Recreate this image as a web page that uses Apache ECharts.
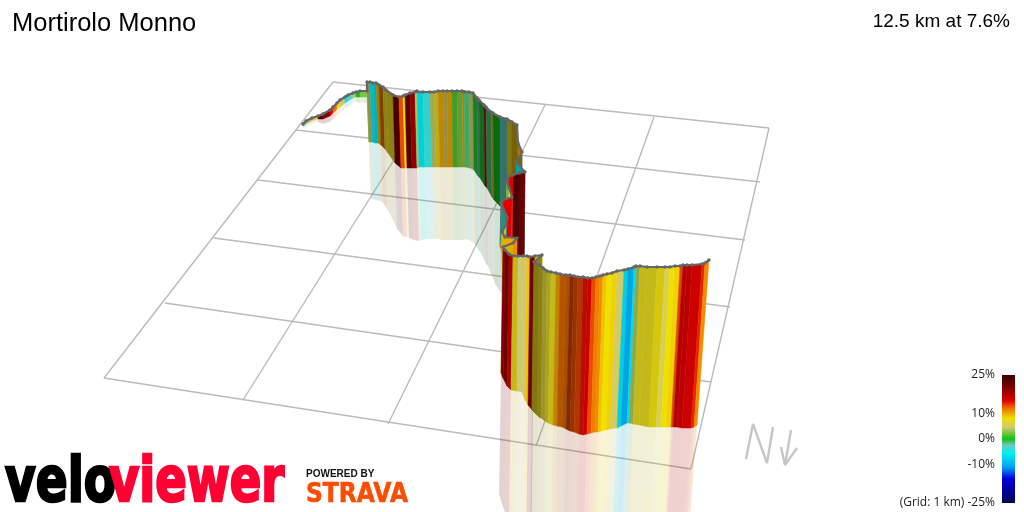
<!DOCTYPE html>
<html><head><meta charset="utf-8">
<style>html,body{margin:0;padding:0;background:#fff}#c{width:1024px;height:512px}</style>
<script src="https://cdn.jsdelivr.net/npm/echarts@6/dist/echarts.min.js"></script>
</head><body><div id="c"></div>
<script>
// Texts
const chartTitle = 'Mortirolo Monno';
const chartSummary = '12.5 km at 7.6%';
const gridNote = '(Grid: 1 km) ';
const brandParts = ['velo', 'viewer'];
const partnerLine = 'POWERED BY';
const partnerName = 'STRAVA';

// Ground grid (scene units = 1024x512 view)
const gridFromX = [333,296,258,214,165,104, 333,436,545,654,769];
const gridFromY = [82,130,180,238,303,378, 82,93,105,117,128];
const gridToX   = [769,760,745,730,711,691, 104,243,388,536,691];
const gridToY   = [128,182,240,307,382,469, 378,400,424,446,469];

// Route curtain: top of wall, foot of wall, gradient (%), side lighting
const topX = [
 303,306,312,318,323,330,333,337,340,345,348,353,356,360,367,
 367,370,373,376,379,383,386,393,399,403,405,410,415,417,423,430,434,438,443,447,452,457,462,464,469,473,477,479,484,486,491,493,500,507,512,
 517,518,522,516,
 525,519,513,508,507,509,512,503,501,507,506,502,505,517,513,
 503,505,509,513,518,523,527,530,535,542,534,539,543,547,551,556,560,566,570,574,578,583,588,592,596,600,603,607,612,617,624,628,634,636,640,647,657,665,670,675,680,683,687,692,702,705,709];
const topY = [
 124,121,118,116,114,110,107,103,100,97,95,93,92,91,91,
 82,82,83,83,85,87,90,95,97,96,95,93,92,91,92,92,92,91,91,91,91,91,91,92,92,93,98,100,105,107,112,113,117,119,122,
 125,143,152,162,
 172,173,175,177,182,188,197,200,203,217,225,232,237,238,243,
 247,250,254,256,256,256,256,257,256,255,262,265,268,271,272,273,274,275,275,276,277,277,278,278,277,276,275,274,273,271,270,269,267,266,266,267,267,267,267,266,266,265,265,265,264,263,260];
const baseX = [
 303,306,312,318,323,330,333,337,340,345,348,353,356,360,367,
 369,372,375,378,381,385,388,395,401,405,407,412,417,419,425,432,436,440,445,448,453,458,463,465,470,474,478,480,485,487,492,494,500,507,512,
 517,518,522,516,
 524,518,512,507,506,508,511,502,500,506,505,501,504,516,512,
 501,503,507,511,517,522,525,528,533,540,532,537,541,545,548,553,557,562,566,570,574,579,583,587,591,595,598,601,606,610,617,621,627,629,633,639,649,656,661,666,671,673,677,682,691,694,697];
const baseY = [
 126,124,121,119,119,116,113,109,107,103,101,98,97,97,97,
 142,142,143,143,145,149,153,163,168,168,168,168,168,167,167,167,167,167,167,167,167,167,167,167,168,170,176,178,186,188,197,200,206,210,213,
 216,220,225,228,
 275,272,268,264,262,258,258,252,246,246,246,246,290,290,300,
 373,378,386,390,391,392,400,405,411,418,410,415,418,421,423,425,426,427,429,431,432,434,435,434,433,432,432,431,430,429,428,426,423,423,424,425,427,427,427,427,427,427,427,428,428,427,425];
const grade = [
 -7,4,5,23,20,15,12,8,4.5,-6,-3,4,0,2.5,2.5,
 5,-6,-8,8,12,7,7,24,13,8,23,19,3.5,-6,-4,4,7,10,5,10,1.5,2.5,9,-1.5,4,-0.5,-2,-0.5,20,-1.5,6,0,-3,7,9,
 6,11,5,-6,
 21,23,15,8,2,8,15,14,-4,-4,8,9,10,11,9,
 20,21,17,7,4.5,4.5,9,21,9,7,7,7,6,7,7,10,12,12,13,13,13,14.5,15.5,13,11.5,11,9,8,8.5,5,-7,-10,-7,3.5,7,7,7.5,5.5,8,8.5,13,15.5,17,16,14,11,null];
const lighting = [
 1,1,1,1,1,1,1,1,1,1,1,1,1,1,1,
 .7,.8,.85,.6,.55,.6,.6,1,1,1,1,1,1,.9,.95,.85,.8,.8,.7,.8,.8,.8,.7,.85,.75,.65,.55,.55,.8,.55,.5,.55,.55,.55,.5,
 .5,.8,.5,.7,
 .95,.9,1,1,1,1,1,1,.65,.65,.9,.9,1,1,.9,
 1,1,.9,.85,1,1,1,1,1,.6,.55,.6,.7,.75,.85,.8,.75,.7,.55,.65,.75,.8,.95,1,1,1,1,1,1,1,.95,.95,1,.85,.85,.85,.9,1,1,1,.95,.85,1,1,1,1,1];

// Colour scale
const scaleStops  = [25,20,15,12,8,4.5,0,-2.5,-5.5,-11,-15.5,-25];
const scaleColors = ['#3a0000','#800000','#e00000','#f07000','#f0e000','#d0c870','#10c010','#70c8c0','#00f0f0','#00a0f0','#0000e0','#000050'];
const scaleTicks  = [25,10,0,-10,-25];

// Hand-drawn north mark
const northLetterX = [746,753,767,773];
const northLetterY = [459,424,463,427];
const northArrowX  = [791,785,781,785,797];
const northArrowY  = [430,465,447,465,448];

function hex(c){return [1,3,5].map(i=>parseInt(c.substr(i,2),16));}
function colourFor(g,light){
  let i=0;
  while(i<scaleStops.length-2 && g<scaleStops[i+1]) i++;
  const t=Math.min(1,Math.max(0,(scaleStops[i]-g)/(scaleStops[i]-scaleStops[i+1])));
  const a=hex(scaleColors[i]),b=hex(scaleColors[i+1]);
  return 'rgb('+a.map((v,k)=>Math.round((v+(b[k]-v)*t)*light)).join(',')+')';
}
const sliceRows = topX.slice(0,-1).map((x,i)=>[x,topY[i]]);
const mirror = 0.96;

function wallItem(params,api){
  const i=params.dataIndex;
  const pts=[[topX[i],topY[i]],[topX[i+1],topY[i+1]],[baseX[i+1],baseY[i+1]],[baseX[i],baseY[i]]].map(p=>api.coord(p));
  const c=colourFor(grade[i],lighting[i]);
  return {type:'polygon',shape:{points:pts},style:{fill:c,stroke:c,lineWidth:0.5}};
}
function reflectionItem(params,api){
  const i=params.dataIndex;
  // where the road doubles back the see-through sheet would stack on itself
  if(topX[i+1]<topX[i] || (i+2<topX.length && topX[i+2]<topX[i+1])) return null;
  const far=j=>[baseX[j]+(baseX[j]-topX[j])*mirror,baseY[j]+(baseY[j]-topY[j])*mirror];
  const pts=[[baseX[i],baseY[i]],[baseX[i+1],baseY[i+1]],far(i+1),far(i)].map(p=>api.coord(p));
  return {type:'polygon',shape:{points:pts},style:{fill:colourFor(grade[i],Math.min(1,lighting[i]*0.9)),opacity:0.18}};
}
function gridItem(params,api){
  const i=params.dataIndex;
  const a=api.coord([gridFromX[i],gridFromY[i]]),b=api.coord([gridToX[i],gridToY[i]]);
  return {type:'line',shape:{x1:a[0],y1:a[1],x2:b[0],y2:b[1]},style:{stroke:'#bbbbbb',lineWidth:1.4}};
}
function barItem(params,api){
  const a=api.coord([0,25]),b=api.coord([1,-25]);
  const colorStops=scaleStops.map((s,k)=>({offset:(25-s)/50,color:scaleColors[k]}));
  return {type:'rect',shape:{x:a[0],y:a[1],width:b[0]-a[0],height:b[1]-a[1]},
    style:{fill:new echarts.graphic.LinearGradient(0,0,0,1,colorStops)}};
}
const hiddenLine=(x,y)=>({type:'line',animation:false,silent:true,symbol:'none',
  data:x.map((v,i)=>[v,y[i]]),lineStyle:{color:'#c6c6c6',width:2.4},z:2});

const chart=echarts.init(document.getElementById('c'),null,{renderer:'canvas'});
chart.setOption({
  animation:false,
  backgroundColor:'#ffffff',
  title:[
    {text:chartTitle,left:12,top:11,padding:0,textStyle:{fontFamily:'Liberation Sans',fontSize:25.5,fontWeight:'normal',color:'#000'}},
    {text:chartSummary,right:14,top:12,padding:0,textStyle:{fontFamily:'Liberation Sans',fontSize:19,fontWeight:'normal',color:'#000'}}
  ],
  grid:[
    {left:0,top:0,width:1024,height:512,containLabel:false},
    {left:1002,top:375,width:13,height:128,containLabel:false}
  ],
  xAxis:[
    {type:'value',min:0,max:1024,show:false},
    {type:'value',gridIndex:1,min:0,max:1,show:false}
  ],
  yAxis:[
    {type:'value',min:0,max:512,inverse:true,show:false},
    {type:'value',gridIndex:1,min:-25,max:25,position:'left',
     axisLine:{show:false},axisTick:{show:false},splitLine:{show:false},
     axisLabel:{customValues:scaleTicks,margin:7,padding:[2,0,0,0],fontFamily:'Open Sans',fontSize:12,color:'#222',
       formatter:v=>(v===-25?gridNote:'')+v+'%'}}
  ],
  series:[
    {type:'custom',renderItem:gridItem,data:gridFromX.map((x,i)=>[x,gridFromY[i]]),silent:true,z:1,clip:true},
    hiddenLine(northLetterX,northLetterY),
    hiddenLine(northArrowX,northArrowY),
    {type:'custom',renderItem:reflectionItem,data:sliceRows,silent:true,z:3},
    {type:'custom',renderItem:wallItem,data:sliceRows,silent:true,z:4},
    {type:'line',data:topX.map((x,i)=>[x,topY[i]]),z:5,silent:true,showSymbol:true,showAllSymbol:true,symbol:'circle',symbolSize:3.4,
      itemStyle:{color:'#666666'},lineStyle:{color:'#666666',width:2.2}},
    {type:'custom',xAxisIndex:1,yAxisIndex:1,renderItem:barItem,data:[[0,25]],silent:true,z:5}
  ],
  graphic:[
    {type:'text',x:5,y:516,scaleX:0.76,style:{text:brandParts[0],font:'bold 62px "DejaVu Sans"',fill:'#000',stroke:'#000',lineWidth:2.6,verticalAlign:'bottom'}},
    {type:'text',x:109,y:516,scaleX:0.75,style:{text:brandParts[1],font:'bold 62px "DejaVu Sans"',fill:'#ff0033',stroke:'#ff0033',lineWidth:2.6,verticalAlign:'bottom'}},
    {type:'text',x:306,y:479,scaleX:1.0,style:{text:partnerLine,font:'bold 10px "Liberation Sans"',fill:'#111',verticalAlign:'bottom'}},
    {type:'text',x:306,y:508,scaleX:0.9,style:{text:partnerName,font:'bold 26px "DejaVu Sans"',fill:'#fc4c02',stroke:'#fc4c02',lineWidth:0.6,verticalAlign:'bottom'}}
  ]
});
</script></body></html>
